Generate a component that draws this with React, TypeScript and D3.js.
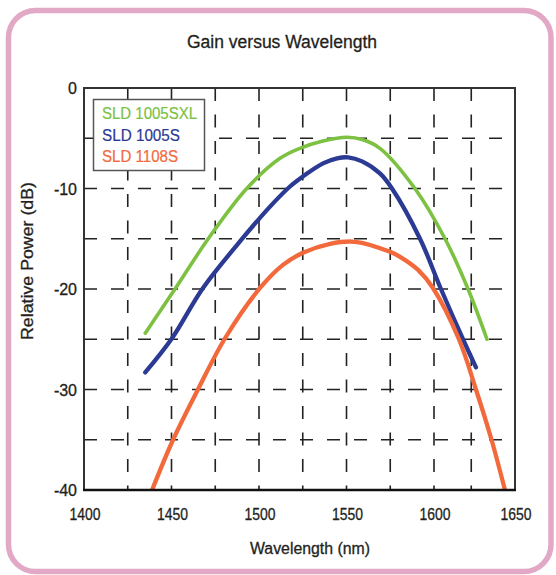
import { useEffect, useRef } from 'react';
import * as d3 from 'd3';

// wavelength (nm) / relative power (dB)
const sxlWl = [1435, 1452, 1471, 1493, 1512, 1523.4, 1536, 1550.3, 1559.4, 1569.1, 1589.1, 1606.8, 1621, 1632.7];
const sxlDb = [-24.4, -20, -15, -10, -7.0, -6.0, -5.3, -4.9, -5.15, -6.0, -10, -15, -20, -25];

const s1005Wl = [1435, 1450.3, 1468, 1490.9, 1506.3, 1517.7, 1525.1, 1536.6, 1544.6, 1550.9, 1558.9, 1569.1, 1576, 1592, 1604.3, 1617.9, 1625.9];
const s1005Db = [-28.3, -24.9, -19.9, -14.9, -11.8, -9.8, -8.8, -7.5, -7.0, -6.9, -7.3, -8.5, -10, -15, -20, -25, -27.8];

const s1108Wl = [1438.9, 1450.9, 1465.1, 1480.6, 1500.6, 1513.7, 1525.1, 1540.6, 1554.9, 1574.9, 1580.6, 1590.9, 1599.4, 1615.4, 1625.9, 1635.5, 1643.8];
const s1108Db = [-40, -35, -30, -24.9, -19.9, -17.6, -16.4, -15.5, -15.3, -16.3, -16.8, -18.1, -19.9, -25, -30, -35, -40];

const seriesNames = ['SLD 1005SXL', 'SLD 1005S', 'SLD 1108S'];
const seriesColors = ['#7cc142', '#2b3a92', '#f26a3c'];

const xTicks = [1400, 1450, 1500, 1550, 1600, 1650];
const yTicks = [0, -10, -20, -30, -40];
const xGrid = [1425, 1450, 1475, 1500, 1525, 1550, 1575, 1600, 1623];
const yGrid = [-5, -10, -15, -20, -25, -30, -35];

const FONT = '"Liberation Sans Narrow", "Liberation Sans", Arial, sans-serif';
const INK = '#231f20';

export default function App() {
  const svgRef = useRef<SVGSVGElement>(null);

  useEffect(() => {
    if (!svgRef.current) return;
    const svg = d3.select(svgRef.current);
    svg.selectAll('*').remove();

    const left = 84;
    const right = 515;
    const top = 88;
    const bottom = 490;

    // the original axis is slightly stretched between 1400 and 1600
    const x = d3.scaleLinear().domain([1400, 1600, 1650]).range([left, 434, right]);
    const y = d3.scaleLinear().domain([-40, 0]).range([bottom, top]);

    // pink frame
    svg
      .append('rect')
      .attr('x', 8.5)
      .attr('y', 10.5)
      .attr('width', 542.5)
      .attr('height', 561)
      .attr('rx', 27)
      .attr('fill', '#fff')
      .attr('stroke', '#e2a9c6')
      .attr('stroke-width', 5.5);

    const label = (sel: any) =>
      sel
        .attr('font-family', FONT)
        .attr('font-size', 16)
        .attr('fill', INK)
        .attr('stroke', INK)
        .attr('stroke-width', 0.3)
        .attr('lengthAdjust', 'spacingAndGlyphs');

    svg
      .append('text')
      .attr('x', 282)
      .attr('y', 48)
      .attr('text-anchor', 'middle')
      .call(label)
      .attr('font-size', 18)
      .attr('textLength', 190)
      .text('Gain versus Wavelength');

    const g = svg.append('g');

    // grid
    g.selectAll('.vgrid')
      .data(xGrid)
      .enter()
      .append('line')
      .attr('x1', (d) => x(d))
      .attr('x2', (d) => x(d))
      .attr('y1', top)
      .attr('y2', bottom)
      .attr('stroke', '#222')
      .attr('stroke-width', 1.6)
      .attr('stroke-dasharray', '13,13.5');

    g.selectAll('.hgrid')
      .data(yGrid)
      .enter()
      .append('line')
      .attr('x1', left)
      .attr('x2', right)
      .attr('y1', (d) => y(d))
      .attr('y2', (d) => y(d))
      .attr('stroke', '#222')
      .attr('stroke-width', 1.6)
      .attr('stroke-dasharray', '13,14');

    svg
      .append('clipPath')
      .attr('id', 'plot-clip')
      .append('rect')
      .attr('x', left)
      .attr('y', top)
      .attr('width', right - left)
      .attr('height', bottom - top);

    const series = [
      { wl: sxlWl, db: sxlDb },
      { wl: s1005Wl, db: s1005Db },
      { wl: s1108Wl, db: s1108Db },
    ];

    const line = d3
      .line<[number, number]>()
      .x((d) => x(d[0]))
      .y((d) => y(d[1]))
      .curve(d3.curveCatmullRom.alpha(0.5));

    const curves = g.append('g').attr('clip-path', 'url(#plot-clip)');
    series.forEach((s, i) => {
      const pts = s.wl.map((w, k) => [w, s.db[k]] as [number, number]);
      curves
        .append('path')
        .attr('d', line(pts))
        .attr('fill', 'none')
        .attr('stroke', seriesColors[i])
        .attr('stroke-width', i === 0 ? 3.6 : 4.3)
        .attr('stroke-linecap', 'round');
    });

    // plot border
    g.append('rect')
      .attr('x', left)
      .attr('y', top)
      .attr('width', right - left)
      .attr('height', bottom - top)
      .attr('fill', 'none')
      .attr('stroke', '#333')
      .attr('stroke-width', 2);
    g.append('line')
      .attr('x1', left - 1)
      .attr('x2', right + 1)
      .attr('y1', bottom)
      .attr('y2', bottom)
      .attr('stroke', '#111')
      .attr('stroke-width', 2.5);

    // legend
    const lg = svg.append('g');
    lg.append('rect')
      .attr('x', 93.5)
      .attr('y', 99.5)
      .attr('width', 111)
      .attr('height', 71)
      .attr('fill', '#fff')
      .attr('stroke', '#555')
      .attr('stroke-width', 1.5);
    const legendWidths = [95, 78, 76];
    lg.selectAll('text')
      .data(seriesNames)
      .enter()
      .append('text')
      .attr('x', 102)
      .attr('y', (_, i) => 119 + i * 21.5)
      .call(label)
      .attr('fill', (_, i) => seriesColors[i])
      .attr('stroke', (_, i) => seriesColors[i])
      .attr('stroke-width', 0.2)
      .attr('textLength', (_, i) => legendWidths[i])
      .text((d) => d);

    // tick labels
    svg
      .append('g')
      .selectAll('text')
      .data(xTicks)
      .enter()
      .append('text')
      .attr('x', (d) => x(d) + 1)
      .attr('y', 520)
      .attr('text-anchor', 'middle')
      .call(label)
      .attr('textLength', 31)
      .text((d) => d);

    svg
      .append('g')
      .selectAll('text')
      .data(yTicks)
      .enter()
      .append('text')
      .attr('x', 77)
      .attr('y', (d) => y(d) + 6)
      .attr('text-anchor', 'end')
      .call(label)
      .text((d) => d);

    svg
      .append('text')
      .attr('x', 310)
      .attr('y', 554)
      .attr('text-anchor', 'middle')
      .call(label)
      .attr('textLength', 120)
      .text('Wavelength (nm)');

    svg
      .append('text')
      .attr('transform', 'translate(33,261) rotate(-90)')
      .attr('text-anchor', 'middle')
      .call(label)
      .attr('textLength', 158)
      .text('Relative Power (dB)');
  }, []);

  return (
    <svg
      ref={svgRef}
      width={556}
      height={575}
      style={{ position: 'absolute', left: 0, top: 0, background: '#fff' }}
    />
  );
}
